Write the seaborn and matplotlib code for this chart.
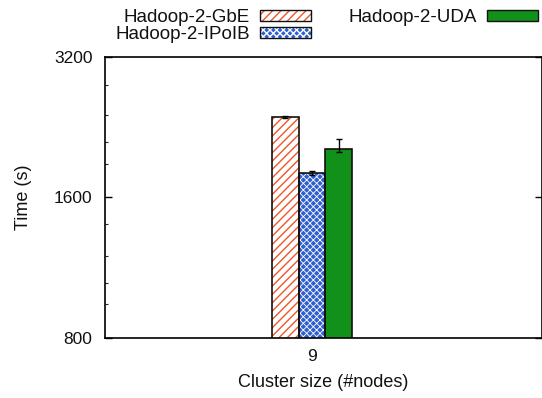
import matplotlib
matplotlib.use("Agg")
import matplotlib.pyplot as plt
import matplotlib.ticker as mticker
from matplotlib.patches import Patch
from matplotlib.legend_handler import HandlerTuple
import seaborn as sns
import pandas as pd
import numpy as np

# ---- data ----
cluster_sizes = ["9"]
configs = ["Hadoop-2-GbE", "Hadoop-2-IPoIB", "Hadoop-2-UDA"]
times = [2378, 1803, 2031]
err_low = [14, 16, 34]
err_high = [14, 20, 105]
y_major = [800, 1600, 3200]
y_minor = [944, 1048, 1200, 1400, 1885, 2098, 2400, 2784]

df = pd.DataFrame({
    "nodes": cluster_sizes * len(configs),
    "config": configs,
    "time": times,
})

sns.set_theme(style="white")
plt.rcParams["font.family"] = ["Liberation Sans", "DejaVu Sans"]
plt.rcParams["hatch.linewidth"] = 1.0

FS_TICK = 12.5
FS_LAB = 13
FS_LEG = 13.5
fig = plt.figure(figsize=(5.42, 3.98), dpi=100)
ax = fig.add_axes([105 / 542, 60.3 / 398, 437 / 542, 280.7 / 398])

face = {"Hadoop-2-GbE": "white", "Hadoop-2-IPoIB": "#2f5fcf", "Hadoop-2-UDA": "#119119"}
hatchcol = {"Hadoop-2-GbE": "#f0552a", "Hadoop-2-IPoIB": "white", "Hadoop-2-UDA": "#119119"}
hatches = {"Hadoop-2-GbE": "////", "Hadoop-2-IPoIB": "xxxxx", "Hadoop-2-UDA": ""}
hatch_lw = {"Hadoop-2-GbE": 1.0, "Hadoop-2-IPoIB": 0.6, "Hadoop-2-UDA": 1.0}


def style_fill(p, c):
    p.set_facecolor(face[c])
    p.set_edgecolor(hatchcol[c])
    p.set_hatch(hatches[c])
    p.set_linewidth(0)
    try:
        p.set_hatch_linewidth(hatch_lw[c])
    except Exception:
        pass


ax.set_yscale("log", base=2)

# fill layer (with hatch)
sns.barplot(data=df, x="nodes", y="time", hue="config", hue_order=configs,
            errorbar=None, width=0.8, ax=ax, legend=False, linewidth=0)
bars = [p for p in ax.patches]
for cfg, p in zip(configs, bars):
    style_fill(p, cfg)

# outline layer
sns.barplot(data=df, x="nodes", y="time", hue="config", hue_order=configs,
            errorbar=None, width=0.8, ax=ax, legend=False, fill=False,
            linewidth=1.2, edgecolor="#111111")
for p in ax.patches[len(bars):]:
    p.set_edgecolor("#111111")
    p.set_facecolor("none")
    p.set_linewidth(1.2)

centers = [p.get_x() + p.get_width() / 2 for p in bars]
ax.errorbar(centers, times, yerr=[err_low, err_high], fmt="none",
            ecolor="black", elinewidth=1.0, capsize=2.5, capthick=1.0, zorder=5)

ax.set_ylim(800, 3200)
ax.set_xlim(-2.07, 2.30)
ax.yaxis.set_major_locator(mticker.FixedLocator(y_major))
ax.yaxis.set_major_formatter(mticker.FixedFormatter([str(v) for v in y_major]))
ax.yaxis.set_minor_locator(mticker.FixedLocator(y_minor))
ax.yaxis.set_minor_formatter(mticker.NullFormatter())

ax.tick_params(axis="y", which="major", direction="in", length=5, width=1,
               pad=9, labelsize=FS_TICK, colors="black", left=True, right=True)
ax.tick_params(axis="y", which="minor", direction="in", length=2.5, width=0.8,
               left=True, right=False)
ax.tick_params(axis="x", which="major", direction="in", length=0, pad=8,
               labelsize=FS_TICK, colors="black")
for lbl in ax.get_xticklabels() + ax.get_yticklabels():
    lbl.set_color("#111111")

for s in ax.spines.values():
    s.set_color("black")
    s.set_linewidth(1.2)

ax.set_xlabel("Cluster size (#nodes)", fontsize=FS_LAB, labelpad=7, color="#111111")
ax.set_ylabel("Time (s)", fontsize=FS_LAB, labelpad=16, color="#111111")

leg_handles = []
for c in configs:
    fill = Patch(linewidth=0)
    style_fill(fill, c)
    outline = Patch(facecolor="none", edgecolor="#111111", linewidth=1.0)
    leg_handles.append((fill, outline))

leg = fig.legend(leg_handles, configs, loc="upper left", ncol=2,
                 bbox_to_anchor=(106 / 542, 1.0), frameon=False,
                 markerfirst=False, fontsize=FS_LEG, handlelength=2.7,
                 handleheight=0.55, handletextpad=0.55, columnspacing=2.0,
                 labelspacing=0.0, borderaxespad=0.1,
                 handler_map={tuple: HandlerTuple(ndivide=1, pad=0)})
for t in leg.get_texts():
    t.set_color("#111111")

fig.savefig("out.png", dpi=100)
